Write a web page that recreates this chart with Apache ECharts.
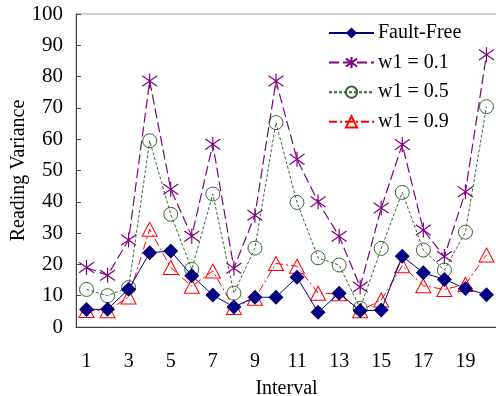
<!DOCTYPE html>
<html>
<head>
<meta charset="utf-8">
<script src="https://cdn.jsdelivr.net/npm/echarts@6/dist/echarts.min.js"></script>
<style>
  html, body { margin: 0; padding: 0; background: #fff; }
  #chart { width: 496px; height: 396px; }
</style>
</head>
<body>
<div id="chart"></div>
<script>
const intervals = ['1','2','3','4','5','6','7','8','9','10','11','12','13','14','15','16','17','18','19','20'];
const faultFree = [5.6, 5.7, 12.1, 23.7, 24.3, 16.4, 10.2, 6.4, 9.5, 9.5, 15.9, 4.7, 10.8, 5.2, 5.4, 22.6, 17.3, 15.2, 12.3, 10.3];
const w1_01 = [19, 16.5, 27.8, 78.6, 44, 29, 58.4, 18.8, 35.7, 78.6, 53.6, 40, 29, 12.8, 38, 58.3, 31, 22.5, 43.2, 87];
const w1_05 = [12, 10, 12.6, 59.5, 36, 18.4, 42.5, 10.8, 25.2, 65.3, 39.8, 22.1, 19.8, 6, 25.1, 43, 24.6, 18.2, 30.3, 70.4];
const w1_09 = [5.3, 5.2, 9.6, 31.2, 19, 13, 17.9, 6.2, 9.2, 20.3, 19.4, 10.8, 10.6, 5.2, 8.6, 19.6, 13.2, 12, 13.6, 23];

const font = 'Liberation Serif';
const fs = 20;
const asterisk = 'path://M2,3L18,17M18,3L2,17M10,0L10,20';

const chart = echarts.init(document.getElementById('chart'));

chart.setOption({
  animation: false,
  textStyle: { fontFamily: font },
  grid: {
    left: 76, top: 14, right: -1, bottom: 69,
    outerBoundsMode: 'none',
    show: true, borderColor: '#a0a0a0', borderWidth: 1
  },
  legend: {
    orient: 'vertical',
    left: 323, top: 18,
    itemWidth: 45, itemHeight: 14, itemGap: 9.6,
    textStyle: { fontFamily: font, fontSize: fs, color: '#000', padding: [0, 0, 0, -1] },
    data: ['Fault-Free', 'w1 = 0.1', 'w1 = 0.5', 'w1 = 0.9']
  },
  xAxis: {
    type: 'category',
    data: intervals,
    name: 'Interval',
    nameLocation: 'middle',
    nameGap: 52,
    nameMoveOverlap: false,
    nameTextStyle: { fontFamily: font, fontSize: fs, color: '#000' },
    axisLine: { lineStyle: { color: '#404040', width: 1 } },
    axisTick: { inside: true, length: 6, interval: 0, lineStyle: { color: '#404040' } },
    axisLabel: { interval: 1, margin: 25, fontFamily: font, fontSize: fs, color: '#000' },
    splitLine: { show: false }
  },
  yAxis: {
    type: 'value',
    min: 0, max: 100, interval: 10,
    name: 'Reading Variance',
    nameLocation: 'middle',
    nameGap: 47,
    nameMoveOverlap: false,
    nameTextStyle: { fontFamily: font, fontSize: fs, color: '#000' },
    axisLine: { show: true, lineStyle: { color: '#404040', width: 1 } },
    axisTick: { show: true, inside: true, length: 5, lineStyle: { color: '#404040' } },
    axisLabel: { margin: 13, fontFamily: font, fontSize: 21, color: '#000' },
    splitLine: { show: false }
  },
  series: [
    {
      name: 'Fault-Free', type: 'line', data: faultFree, z: 5,
      symbol: 'diamond', symbolSize: 15, showAllSymbol: true,
      itemStyle: { color: '#000080' },
      lineStyle: { color: '#000080', width: 1 }
    },
    {
      name: 'w1 = 0.1', type: 'line', data: w1_01,
      symbol: asterisk, symbolSize: 15, showAllSymbol: true,
      itemStyle: { color: 'transparent', borderColor: '#800080', borderWidth: 1.2 },
      lineStyle: { color: '#800080', width: 1.2, type: [10, 4] }
    },
    {
      name: 'w1 = 0.5', type: 'line', data: w1_05,
      symbol: 'circle', symbolSize: 14, showAllSymbol: true,
      itemStyle: { color: 'transparent', borderColor: '#336633', borderWidth: 1 },
      lineStyle: { color: '#336633', width: 1, type: [3, 2] }
    },
    {
      name: 'w1 = 0.9', type: 'line', data: w1_09,
      symbol: 'triangle', symbolSize: [15, 14], showAllSymbol: true,
      itemStyle: { color: 'transparent', borderColor: '#ff0000', borderWidth: 1 },
      lineStyle: { color: '#ff0000', width: 1, type: [8, 3, 2, 3] }
    }
  ]
});
</script>
</body>
</html>
